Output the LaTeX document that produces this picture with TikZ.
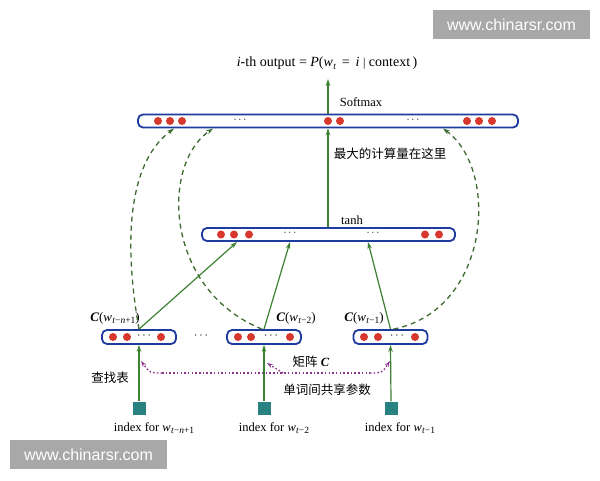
\documentclass[tikz,border=0pt]{standalone}
\usepackage{fontspec}
\setmainfont{Liberation Serif}
\newfontfamily\cjk{Noto Sans CJK SC}
\newfontfamily\wmfont{Liberation Sans}
\usetikzlibrary{arrows.meta}
\definecolor{boxblue}{RGB}{30,60,160}
\definecolor{dotred}{RGB}{215,55,45}
\definecolor{arrowgreen}{RGB}{60,128,50}
\definecolor{dashgreen}{RGB}{62,108,48}
\definecolor{pdotcol}{RGB}{140,50,140}
\definecolor{tealc}{RGB}{40,130,130}
\definecolor{wmgray}{RGB}{168,168,168}
\newcommand\myw[1]{\textit{w}\kern0.3pt\raisebox{-0.45ex}{\fontsize{9.5}{10}\selectfont #1}}
\begin{document}
\begin{tikzpicture}[x=1pt,y=-1pt,
 layer/.style={draw=boxblue,line width=1.8pt,rounded corners=5pt,minimum height=13pt,inner sep=0pt,fill=white},
 garrow/.style={draw=arrowgreen,line width=1.2pt,-{Stealth[length=7pt,width=4.5pt]}},
 gdash/.style={draw=dashgreen,line width=1.3pt,dash pattern=on 5pt off 4pt,-{Stealth[length=7pt,width=4.5pt]}},
 pdot/.style={draw=pdotcol,line width=1.4pt,dash pattern=on 1.5pt off 2.2pt},
 ptip/.style={-{Stealth[length=6pt,width=4pt]}},
 idx/.style={fill=tealc,minimum size=13pt,inner sep=0pt},
 lbl/.style={font=\fontsize{12.5}{14}\selectfont,inner sep=0pt},
 cjkl/.style={font=\cjk\fontsize{12.5}{14}\selectfont,inner sep=0pt},
 wm/.style={fill=wmgray,text=white,font=\wmfont\fontsize{16}{18}\selectfont,minimum width=157pt,minimum height=29pt,inner sep=0pt}
]
\useasboundingbox[fill=white] (0,0) rectangle (600,480);

% watermarks
\node[wm] (wm1) at (511.5,24.5) {www.chinarsr.com};
\node[wm] (wm2) at (88.5,454.5) {www.chinarsr.com};

% layers
\node[layer,minimum width=380pt] (top) at (328,121) {};
\node[layer,minimum width=253pt] (mid) at (328.5,234.5) {};
\node[layer,minimum width=74pt,minimum height=14pt] (b1) at (139,337) {};
\node[layer,minimum width=74pt,minimum height=14pt] (b2) at (264,337) {};
\node[layer,minimum width=74pt,minimum height=14pt] (b3) at (390.5,337) {};

% dots
\foreach \x in {158,170,182,328,340,467,479,492} \fill[dotred] (\x,121) circle (4pt);
\foreach \x in {221,234,249,425,439} \fill[dotred] (\x,234.5) circle (4pt);
\foreach \x in {113,127,161,238,251,290,364,378,415} \fill[dotred] (\x,337) circle (4pt);
\node[lbl,font=\fontsize{11}{12}\selectfont] (d1) at (240,120) {$\cdots$};
\node[lbl,font=\fontsize{11}{12}\selectfont] (d2) at (413,120) {$\cdots$};
\node[lbl,font=\fontsize{11}{12}\selectfont] (d3) at (290,233.5) {$\cdots$};
\node[lbl,font=\fontsize{11}{12}\selectfont] (d4) at (373,233.5) {$\cdots$};
\node[lbl] (d5) at (144,336) {$\cdots$};
\node[lbl] (d6) at (271,336) {$\cdots$};
\node[lbl] (d7) at (397,336) {$\cdots$};
\node[lbl] (d8) at (201,336) {$\cdots$};

% index squares
\node[idx] (s1) at (139,408) {};
\node[idx] (s2) at (264,408) {};
\node[idx] (s3) at (391,408) {};

% labels
\node[lbl,font=\fontsize{14}{16}\selectfont] (title) at (327,63) {\textit{i}-th output = \textit{P}(\myw{\textit{t}} \,=\, \textit{i} {\fontsize{12}{14}\selectfont|} context\,)};
\node[lbl] (softmax) at (361,102) {Softmax};
\node[cjkl] (comp) at (390,154) {最大的计算量在这里};
\node[lbl] (tanh) at (352,220) {tanh};
\node[lbl,font=\fontsize{13}{15}\selectfont] (c1) at (115,318) {\textbf{\textit{C}}(\myw{\textit{t}−\textit{n}+1})};
\node[lbl,font=\fontsize{13}{15}\selectfont] (c2) at (296,318) {\textbf{\textit{C}}(\myw{\textit{t}−2})};
\node[lbl,font=\fontsize{13}{15}\selectfont] (c3) at (364,318) {\textbf{\textit{C}}(\myw{\textit{t}−1})};
\node[lbl] (mat) at (311,362) {{\cjk 矩阵} \textbf{\textit{C}}};
\node[cjkl] (look) at (110,378) {查找表};
\node[cjkl] (share) at (327,390) {单词间共享参数};
\node[lbl,anchor=base] (i1) at (154,431) {index for \myw{\textit{t}−\textit{n}+1}};
\node[lbl,anchor=base] (i2) at (274,431) {index for \myw{\textit{t}−2}};
\node[lbl,anchor=base] (i3) at (400,431) {index for \myw{\textit{t}−1}};

% coordinates
\coordinate (out) at (328,79);
\coordinate (m1) at (237,242);
\coordinate (m2) at (290,242);
\coordinate (m3) at (368,242);
\coordinate (t1) at (174,128.5);
\coordinate (t2) at (213,128.5);
\coordinate (t3) at (443,128.5);
\coordinate (p1) at (141,361);
\coordinate (p2) at (267,363);
\coordinate (p3) at (390,361);
\coordinate (pl) at (162,373);
\coordinate (pm) at (283,373);
\coordinate (pr) at (370,373);

% solid green arrows
\draw[garrow] (top.north -| out) -- (out);
\draw[garrow] (mid.north -| out) -- (top.south -| out);
\draw[garrow] (b1.north) -- (m1);
\draw[garrow] (b2.north) -- (m2);
\draw[garrow] (b3.north) -- (m3);
\draw[garrow] (s1.north) -- (b1.south);
\draw[garrow] (s2.north) -- (b2.south);
\draw[garrow] (s3.north) -- (b3.south);

% dashed green curves
\draw[gdash] (b1.north) .. controls (125,250) and (125,165) .. (t1);
\draw[gdash] ([xshift=-2pt]b2.north) .. controls (165,290) and (160,165) .. (t2);
\draw[gdash] ([xshift=3pt]b3.north) .. controls (490,310) and (500,170) .. (t3);

% purple dotted
\draw[pdot,ptip] (pl) .. controls (150,373) .. (p1);
\draw[pdot] (pl) -- (pr);
\draw[pdot,ptip] (pr) .. controls (382,373) .. (p3);
\draw[pdot,ptip] (pm) -- (p2);
\end{tikzpicture}
\end{document}
